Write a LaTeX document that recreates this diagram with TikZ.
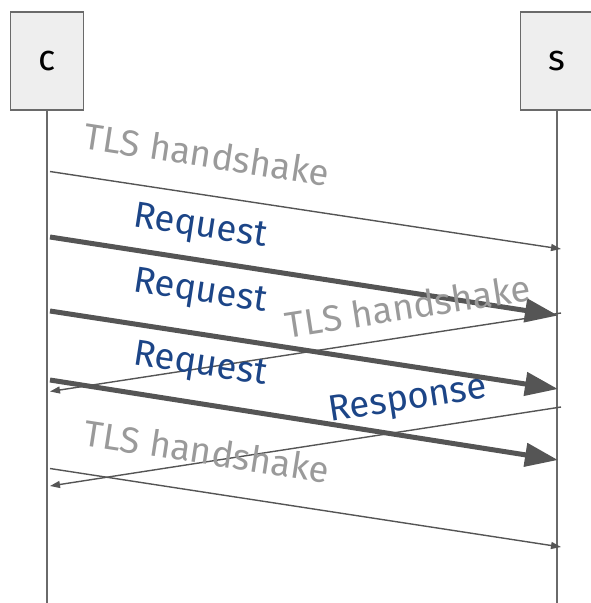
\documentclass[tikz,border=0pt]{standalone}
\usepackage{fontspec}
\setmainfont{Fira Sans}
\usetikzlibrary{arrows.meta}
\definecolor{linegray}{HTML}{555555}
\definecolor{lifegray}{HTML}{6A6A6A}
\definecolor{boxfill}{HTML}{EEEEEE}
\definecolor{labgray}{HTML}{9A9A9A}
\definecolor{labblue}{HTML}{1C4587}
\tikzset{
  actor/.style={draw=lifegray, line width=1.5pt, fill=boxfill, minimum width=73pt, minimum height=98pt, inner sep=0pt, font=\fontsize{36}{38}\selectfont},
  lifeline/.style={draw=lifegray, line width=1.5pt},
  thinmsg/.style={draw=linegray, line width=1.4pt, -{Triangle[length=10pt,width=7pt]}},
  thickmsg/.style={draw=linegray, line width=5pt, -{Triangle[length=33pt,width=23pt]}},
  graylab/.style={text=labgray, font=\fontsize{36.5}{38}\selectfont, inner sep=0pt},
  bluelab/.style={text=labblue, font=\fontsize{36.5}{38}\selectfont, inner sep=0pt},
}
\begin{document}
\begin{tikzpicture}[x=1pt,y=-1pt]
\useasboundingbox (0,0) rectangle (590,603);
\node[actor] (c) at (47,61) {c};
\node[actor] (s) at (557,61) {s};
\coordinate (cend) at (47,603);
\coordinate (send) at (557,603);
\draw[lifeline] (c.south) -- (cend);
\draw[lifeline] (s.south) -- (send);
% endpoints
\coordinate (a1) at (50,171.5);
\coordinate (b1) at (561,249);
\coordinate (a2) at (50,237);
\coordinate (b2) at (558,315.5);
\coordinate (a3) at (50,311);
\coordinate (b3) at (558,389);
\coordinate (b4) at (561,313);
\coordinate (a4) at (50,391.5);
\coordinate (a5) at (50,380);
\coordinate (b5) at (558,460);
\coordinate (b6) at (561,407);
\coordinate (a6) at (50,486);
\coordinate (a7) at (50,468.5);
\coordinate (b7) at (561,547);
\draw[thinmsg] (a1) -- (b1);
\draw[thickmsg] (a2) -- (b2);
\draw[thickmsg] (a3) -- (b3);
\draw[thinmsg] (b4) -- (a4);
\draw[thickmsg] (a5) -- (b5);
\draw[thinmsg] (b6) -- (a6);
\draw[thinmsg] (a7) -- (b7);
% labels
\node[graylab, rotate=-8.8] (l1) at (207,154) {TLS handshake};
\node[bluelab, rotate=-8.8] (l2) at (200,228) {Request};
\node[bluelab, rotate=-8.8] (l3) at (200,293) {Request};
\node[graylab, rotate=8.8] (l4) at (408,306) {TLS handshake};
\node[bluelab, rotate=-8.8] (l5) at (200,366) {Request};
\node[bluelab, rotate=8.8] (l6) at (408,401) {Response};
\node[graylab, rotate=-8.8] (l7) at (207,451) {TLS handshake};
\end{tikzpicture}
\end{document}
